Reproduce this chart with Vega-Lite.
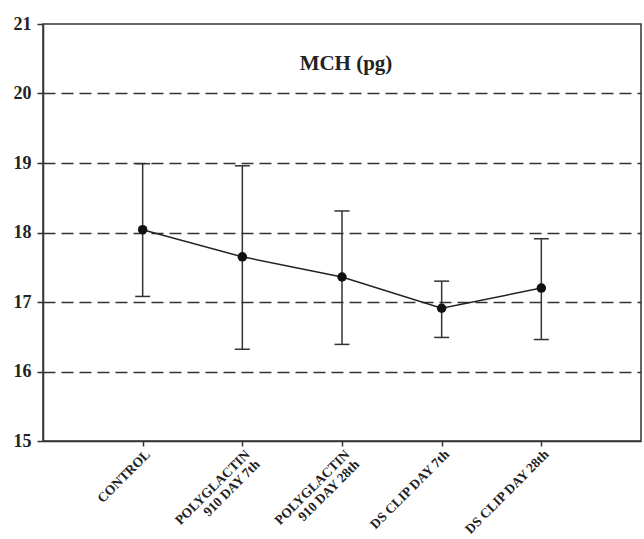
{
  "$schema": "https://vega.github.io/schema/vega-lite/v6.json",
  "width": 598,
  "height": 417,
  "autosize": {"type": "none"},
  "padding": {"left": 43, "top": 24, "right": 3, "bottom": 98},
  "background": "white",
  "config": {
    "view": {"stroke": "#333", "strokeWidth": 1.5},
    "font": "Liberation Serif"
  },
  "title": {
    "text": "MCH (pg)",
    "font": "Liberation Serif",
    "fontSize": 21,
    "fontWeight": "bold",
    "color": "#222",
    "anchor": "middle",
    "baseline": "alphabetic",
    "offset": 0,
    "dy": 76,
    "dx": 4
  },
  "data": {
    "values": [
      {"group": "CONTROL", "mean": 18.04, "lo": 17.08, "hi": 18.99},
      {"group": "POLYGLACTIN 910 DAY 7th", "mean": 17.65, "lo": 16.32, "hi": 18.96},
      {"group": "POLYGLACTIN 910 DAY 28th", "mean": 17.36, "lo": 16.39, "hi": 18.31},
      {"group": "DS CLIP DAY 7th", "mean": 16.91, "lo": 16.49, "hi": 17.3},
      {"group": "DS CLIP DAY 28th", "mean": 17.2, "lo": 16.46, "hi": 17.91}
    ]
  },
  "encoding": {
    "x": {
      "field": "group",
      "type": "nominal",
      "sort": null,
      "scale": {"type": "point", "padding": 1},
      "axis": {
        "title": null,
        "labelAngle": -45,
        "labelAlign": "right",
        "labelBaseline": "top",
        "labelFont": "Liberation Serif",
        "labelFontSize": 13.5,
        "labelFontWeight": "bold",
        "labelColor": "#222",
        "labelLineHeight": 14,
        "labelPadding": 1,
        "labelExpr": "indexof(datum.label, 'POLYGLACTIN') == 0 ? ['POLYGLACTIN', substring(datum.label, 12)] : datum.label",
        "tickSize": 5,
        "tickColor": "#333",
        "tickWidth": 1.5,
        "domainColor": "#333",
        "domainWidth": 1.5,
        "grid": false
      }
    }
  },
  "layer": [
    {
      "mark": {"type": "rule", "color": "#333", "strokeWidth": 1.5},
      "encoding": {
        "y": {
          "field": "lo",
          "type": "quantitative",
          "title": null,
          "scale": {"domain": [15, 21], "nice": false, "zero": false},
          "axis": {
            "values": [15, 16, 17, 18, 19, 20, 21],
            "format": "d",
            "labelFont": "Liberation Serif",
            "labelFontSize": 18,
            "labelFontWeight": "bold",
            "labelColor": "#222",
            "labelPadding": 6,
            "tickSize": 6,
            "tickColor": "#333",
            "tickWidth": 1.5,
            "domainColor": "#333",
            "domainWidth": 1.5,
            "grid": true,
            "gridColor": "#333",
            "gridWidth": 1.5,
            "gridDash": [12, 6],
            "gridOpacity": {"condition": {"test": "datum.value == 15 || datum.value == 21", "value": 0}, "value": 1}
          }
        },
        "y2": {"field": "hi"}
      }
    },
    {
      "mark": {"type": "tick", "orient": "horizontal", "color": "#333", "size": 15, "thickness": 1.5, "opacity": 1},
      "encoding": {"y": {"field": "lo", "type": "quantitative", "title": null}}
    },
    {
      "mark": {"type": "tick", "orient": "horizontal", "color": "#333", "size": 15, "thickness": 1.5, "opacity": 1},
      "encoding": {"y": {"field": "hi", "type": "quantitative", "title": null}}
    },
    {
      "mark": {"type": "line", "color": "#222", "strokeWidth": 1.5},
      "encoding": {"y": {"field": "mean", "type": "quantitative", "title": null}}
    },
    {
      "mark": {"type": "point", "filled": true, "color": "#111", "size": 90, "opacity": 1},
      "encoding": {"y": {"field": "mean", "type": "quantitative", "title": null}}
    }
  ]
}
